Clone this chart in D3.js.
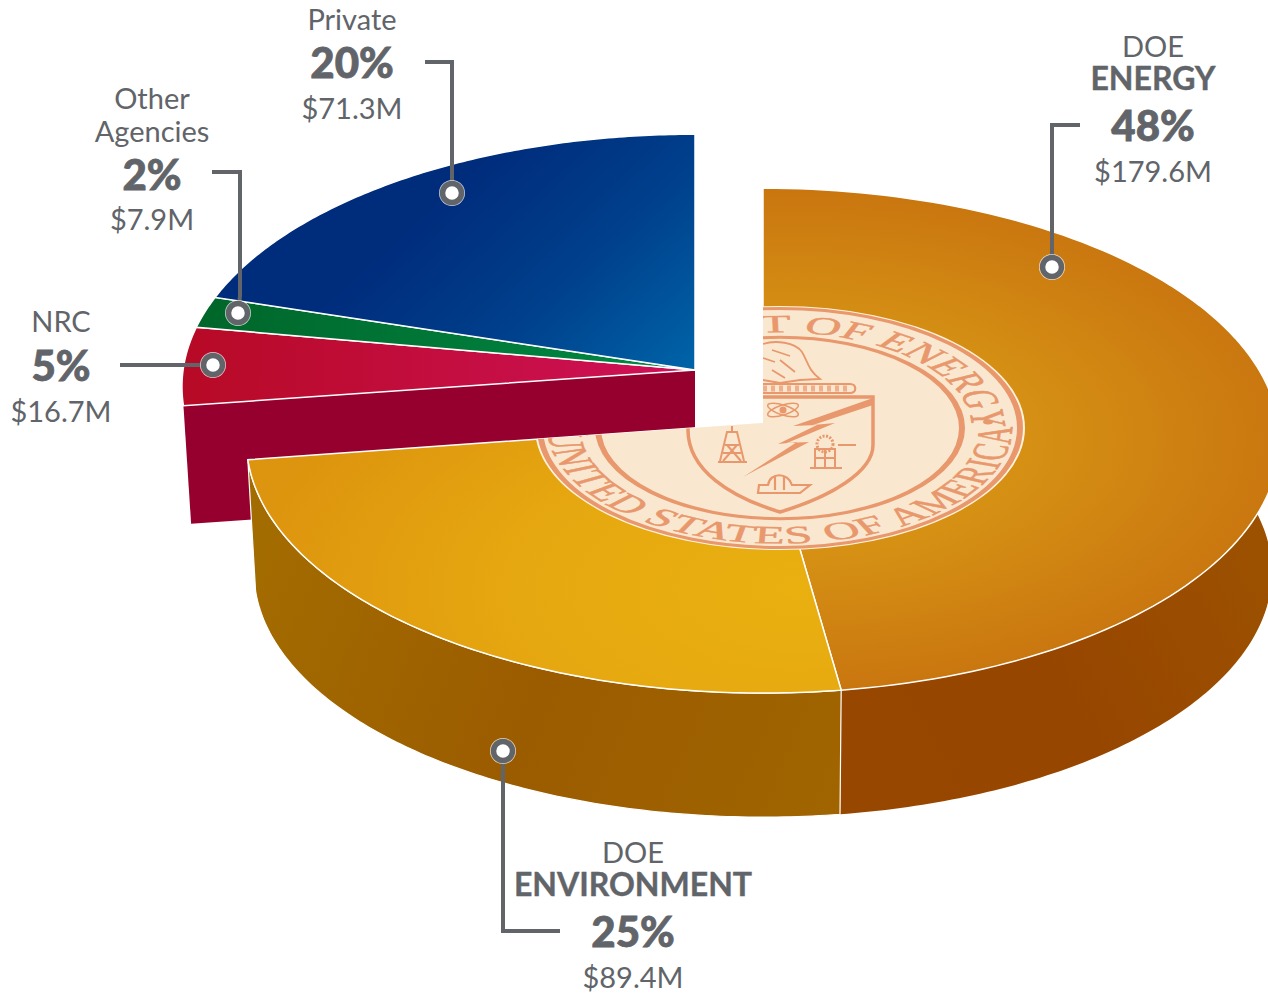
<!DOCTYPE html>
<html>
<head>
<meta charset="utf-8">
<script src="https://cdnjs.cloudflare.com/ajax/libs/d3/7.8.5/d3.min.js"></script>
<style>
    body { margin: 0; background: #fff; }
    svg { display: block; }
    text { font-family: Lato, "Open Sans", sans-serif; fill: #616469; text-anchor: middle; }
    .name { font-size: 29px; }
    .strong { font-size: 32px; font-weight: 700; stroke: #616469; stroke-width: .4px; }
    .pct { font-size: 42px; font-weight: 900; stroke: #616469; stroke-width: .8px; }
    .money { font-size: 29px; }
    .seal text { font-family: "Liberation Serif", serif; fill: #e9976c; stroke: #e9976c; stroke-width: .8px; font-size: 50px; }
</style>
</head>
<body>
<div id="wrapper"></div>
<script>
// clockwise from 12 o'clock
const categories = ["DOE ENERGY", "DOE ENVIRONMENT", "NRC", "Other Agencies", "Private"]
const percents = [48, 25, 5, 2, 20]
const dollars = ["$179.6M", "$89.4M", "$16.7M", "$7.9M", "$71.3M"]
// slice sizes as actually drawn in the picture (the printed labels are rounded)
const shares = [47.7, 25.3, 5, 2, 20]

const width = 1268, height = 993
const R = 516, tilt = 0.488, persp = 0.05
const mainPie = { cx: 763, cy: 428, apex: 423, depth: 132, size: 1 }
const sidePie = { cx: 695, cy: 374, apex: 370, depth: 119, size: 0.993 }

const svg = d3.select("#wrapper").append("svg")
    .attr("width", width)
    .attr("height", height)

const slices = d3.pie().value(d => d).sort(null)(shares)

function project(pie, a, lower) {
    const px = Math.sin(a), py = -Math.cos(a)
    const s = 1 / (1 - persp * py)
    const r = (lower ? R * 0.985 : R) * pie.size
    const k = lower ? tilt * 0.97 : tilt
    return [pie.cx + r * px * s, pie.cy + (lower ? pie.depth : 0) + R * k * py * s]
}

const line = d3.line()

function arcPoints(pie, a0, a1, lower) {
    return d3.range(0, 121).map(i => project(pie, a0 + (a1 - a0) * i / 120, lower))
}
function topPath(pie, a0, a1) {
    return line([[pie.cx, pie.apex], ...arcPoints(pie, a0, a1, false)]) + "Z"
}
function wallPath(pie, a0, a1) {
    return line([...arcPoints(pie, a0, a1, false), ...arcPoints(pie, a1, a0, true)]) + "Z"
}

// gradients
const defs = svg.append("defs")
function linear(id, x1, y1, x2, y2, stops) {
    const g = defs.append("linearGradient").attr("id", id)
        .attr("gradientUnits", "userSpaceOnUse")
        .attr("x1", x1).attr("y1", y1).attr("x2", x2).attr("y2", y2)
    stops.forEach((c, i) => g.append("stop").attr("offset", i / (stops.length - 1)).attr("stop-color", c))
}
function radial(id, cx, cy, r, stops) {
    const g = defs.append("radialGradient").attr("id", id)
        .attr("gradientUnits", "userSpaceOnUse")
        .attr("cx", 0).attr("cy", 0).attr("r", r)
        .attr("gradientTransform", `translate(${cx},${cy}) scale(1,0.5)`)
    stops.forEach((c, i) => g.append("stop").attr("offset", i / (stops.length - 1)).attr("stop-color", c))
}
radial("gEnergy", 790, 440, 500, ["#e09f14", "#d58f14", "#c9760f"])
radial("gEnv", 800, 590, 560, ["#e9b010", "#e6a810", "#dd940e"])
linear("gPrivate", 470, 170, 670, 390, ["#002c7c", "#00408c", "#0064a8"])
linear("gOther", 200, 310, 690, 370, ["#00662a", "#008a45"])
linear("gNrc", 185, 370, 690, 380, ["#b70a26", "#cf1158"])
linear("gEnergyWall", 850, 800, 1268, 560, ["#984700", "#974600", "#9c5100"])
linear("gEnvWall", 250, 550, 840, 800, ["#a36c00", "#9b5c00", "#a06400"])

const fills = ["url(#gEnergy)", "url(#gEnv)", "url(#gNrc)", "url(#gOther)", "url(#gPrivate)"]

// detached wedge group goes first, main pie sits in front of it
const side = svg.append("g")
const nrc = slices[2]
side.append("path")
    .attr("d", line([project(sidePie, nrc.startAngle, false),
        [sidePie.cx, sidePie.apex],
        [sidePie.cx, sidePie.apex + sidePie.depth],
        project(sidePie, nrc.startAngle, true)]) + "Z")
    .attr("fill", "#96002f")

side.selectAll("path.top")
    .data(slices.slice(2))
    .enter()
    .append("path")
    .attr("class", "top")
    .attr("d", d => topPath(sidePie, d.startAngle, d.endAngle))
    .attr("fill", d => fills[d.index])
    .attr("stroke", "#fff")
    .attr("stroke-width", 1.5)

// main pie walls
const main = svg.append("g")
main.append("path")
    .attr("d", wallPath(mainPie, Math.PI * 0.4, slices[0].endAngle))
    .attr("fill", "url(#gEnergyWall)")
main.append("path")
    .attr("d", wallPath(mainPie, slices[1].startAngle, slices[1].endAngle))
    .attr("fill", "url(#gEnvWall)")
    .attr("stroke", "#fff")
    .attr("stroke-width", 1.2)

main.selectAll("path.top")
    .data(slices.slice(0, 2))
    .enter()
    .append("path")
    .attr("class", "top")
    .attr("d", d => topPath(mainPie, d.startAngle, d.endAngle))
    .attr("fill", d => fills[d.index])
    .attr("stroke", "#fff")
    .attr("stroke-width", 1.5)

// seal printed on the main pie
defs.append("clipPath").attr("id", "mainClip")
    .append("path")
    .attr("d", topPath(mainPie, slices[0].startAngle, slices[1].endAngle))

const seal = svg.append("g").attr("class", "seal").attr("clip-path", "url(#mainClip)")
const salmon = "#e9976c"
const disc = seal.append("g").attr("transform", "translate(780,428) scale(1,0.498)")
disc.append("circle").attr("r", 245).attr("fill", "#fff3dc")
disc.append("circle").attr("r", 240).attr("fill", "#f9e8cf").attr("stroke", salmon).attr("stroke-width", 6)
disc.append("circle").attr("r", 182).attr("fill", "none").attr("stroke", salmon).attr("stroke-width", 6)

function ringArc(r, from, to, sweep, large) {
    const a = from * Math.PI / 180, b = to * Math.PI / 180
    return `M${r * Math.sin(a)},${-r * Math.cos(a)}A${r},${r} 0 ${large} ${sweep} ${r * Math.sin(b)},${-r * Math.cos(b)}`
}
defs.append("path").attr("id", "ringTop").attr("d", ringArc(192, -120, 120, 1, 1))
defs.append("path").attr("id", "ringBottom").attr("d", ringArc(232, 280, 80, 0, 1))

disc.append("text")
    .append("textPath").attr("href", "#ringTop").attr("startOffset", "49%")
    .text("DEPARTMENT OF ENERGY")
disc.append("text").attr("letter-spacing", 1.5)
    .append("textPath").attr("href", "#ringBottom").attr("startOffset", "50.7%")
    .text("UNITED STATES OF AMERICA")
disc.append("circle").attr("cx", 208).attr("cy", -12).attr("r", 5).attr("fill", salmon)

// shield and emblems, drawn in page coordinates
seal.append("path")
    .attr("d", "M688,397H873V445C873,472 830,497 780,512C730,497 688,470 688,430Z")
    .attr("fill", "none").attr("stroke", salmon).attr("stroke-width", 3.5)
seal.append("path")
    .attr("d", "M873,398L793,426L817,425L778,444L797,442L743,477L809,442L787,443L835,423L813,425L873,405Z")
    .attr("fill", salmon)
seal.append("path")
    .attr("d", "M763,344C775,340 795,342 802,352C808,362 808,370 820,379L800,380L780,383L763,380M772,350L790,356M780,360L795,372M772,370L785,378M763,358L775,362")
    .attr("fill", "none").attr("stroke", salmon).attr("stroke-width", 1.8)
seal.append("path")
    .attr("d", "M763,384H850C857,384 857,393 850,393H763")
    .attr("fill", "none").attr("stroke", salmon).attr("stroke-width", 2.2)
seal.append("path")
    .attr("d", "M763,388.5H850")
    .attr("fill", "none").attr("stroke", salmon).attr("stroke-width", 6).attr("stroke-dasharray", "4 4").attr("opacity", 0.7)
seal.selectAll("ellipse.atom")
    .data([-18, 18])
    .enter().append("ellipse").attr("class", "atom")
    .attr("rx", 16).attr("ry", 5)
    .attr("transform", d => `translate(783,410) rotate(${d})`)
    .attr("fill", "none").attr("stroke", salmon).attr("stroke-width", 1.5)
seal.append("circle").attr("cx", 783).attr("cy", 410).attr("r", 3.5).attr("fill", salmon)
seal.append("path")
    .attr("d", "M720,461L727,432H737L744,461M718,462H747M725,445H739M723,453H741M732,432V426M727,445L741,461M737,445L723,461")
    .attr("fill", "none").attr("stroke", salmon).attr("stroke-width", 2)
seal.append("path")
    .attr("d", "M815,467V449H835V467M825,449V467M815,458H835M810,468H842M838,445H856")
    .attr("fill", "none").attr("stroke", salmon).attr("stroke-width", 2)
seal.append("circle").attr("cx", 825).attr("cy", 444).attr("r", 8)
    .attr("fill", "none").attr("stroke", salmon).attr("stroke-width", 3).attr("stroke-dasharray", "2 1.5")
seal.append("path")
    .attr("d", "M758,493H800L810,485H792C788,472 770,472 768,485H759ZM775,476V490M784,476V490")
    .attr("fill", "none").attr("stroke", salmon).attr("stroke-width", 2.2)

// leader lines
const leaders = [
    { path: [[1080, 125], [1052, 125], [1052, 267]] },
    { path: [[560, 931], [503, 931], [503, 751]] },
    { path: [[120, 365], [213, 365]] },
    { path: [[212, 172], [240, 172], [240, 296], [238, 313]] },
    { path: [[425, 62], [452, 62], [452, 193]] }
]
const leader = svg.append("g")
leader.selectAll("path")
    .data(leaders)
    .enter()
    .append("path")
    .attr("d", d => line(d.path))
    .attr("fill", "none")
    .attr("stroke", "#616469")
    .attr("stroke-width", 4)
leader.selectAll("circle.halo")
    .data(leaders)
    .enter()
    .append("circle")
    .attr("class", "halo")
    .attr("cx", d => d.path[d.path.length - 1][0])
    .attr("cy", d => d.path[d.path.length - 1][1])
    .attr("r", 13)
    .attr("fill", "#fff")
    .attr("opacity", 0.75)
leader.selectAll("circle.dot")
    .data(leaders)
    .enter()
    .append("circle")
    .attr("class", "dot")
    .attr("cx", d => d.path[d.path.length - 1][0])
    .attr("cy", d => d.path[d.path.length - 1][1])
    .attr("r", 9.5)
    .attr("fill", "#fff")
    .attr("stroke", "#616469")
    .attr("stroke-width", 5.5)

// labels
const labelPos = [
    { x: 1153, lines: [["DOE", "name", 57], ["ENERGY", "strong", 90]], pct: 141, money: 182 },
    { x: 633, lines: [["DOE", "name", 863], ["ENVIRONMENT", "strong", 896]], pct: 947, money: 988 },
    { x: 61, lines: [["NRC", "name", 332]], pct: 381, money: 422 },
    { x: 152, lines: [["Other", "name", 109], ["Agencies", "name", 142]], pct: 190, money: 230 },
    { x: 352, lines: [["Private", "name", 30]], pct: 78, money: 119 }
]
const labels = svg.append("g")
    .selectAll("g")
    .data(labelPos)
    .enter()
    .append("g")
labels.each(function (d, i) {
    const g = d3.select(this)
    d.lines.forEach(l => g.append("text").attr("class", l[1]).attr("x", d.x).attr("y", l[2]).text(l[0]))
    g.append("text").attr("class", "pct").attr("x", d.x).attr("y", d.pct).text(percents[i] + "%")
    g.append("text").attr("class", "money").attr("x", d.x).attr("y", d.money).text(dollars[i])
})
</script>
</body>
</html>
